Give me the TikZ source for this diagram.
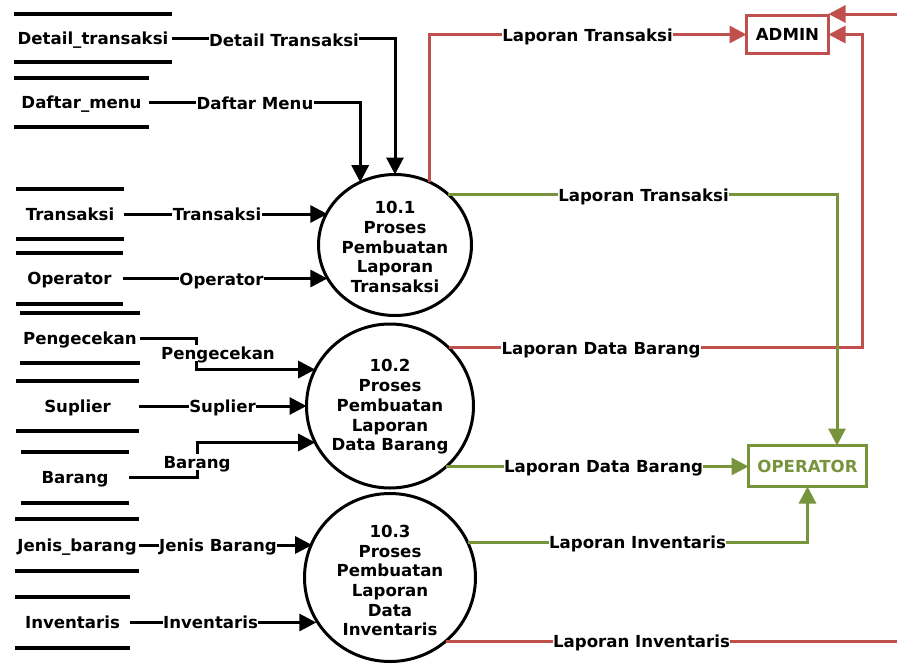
\documentclass[tikz,border=0pt]{standalone}
\usepackage{fontspec}
\setmainfont{DejaVu Sans}
\usetikzlibrary{arrows.meta,shapes.geometric}
\definecolor{flowred}{HTML}{C0504D}
\definecolor{flowgreen}{HTML}{77933C}
\begin{document}
\begin{tikzpicture}[x=1pt,y=-1pt,
  every node/.style={font=\bfseries\fontsize{16.6}{19.7}\selectfont,
    inner sep=0pt, outer sep=0pt, text height=12.1pt, text depth=0pt},
  store/.style 2 args={minimum width=#1, minimum height=#2},
  storeline/.style={line width=4pt},
  proc/.style={ellipse, draw, line width=3pt, inner sep=0pt},
  proctext/.style={align=center, text height=, text depth=},
  flow/.style={line width=3pt, -{Triangle[length=17pt,width=17pt]}},
  redflow/.style={flow, draw=flowred},
  greenflow/.style={flow, draw=flowgreen},
  lbl/.style={fill=white, inner xsep=0.5pt, inner ysep=2pt},
  entity/.style={draw, line width=3pt}
]
\useasboundingbox (0,0) rectangle (897,665);

% data stores
\node[store={158}{48}] (DT) at (93,38)    {Detail\_transaksi};
\node[store={135}{49}] (DM) at (81.5,102.5) {Daftar\_menu};
\node[store={108}{50}] (TR) at (70,214)   {Transaksi};
\node[store={107}{51}] (OS) at (69.5,278.5) {Operator};
\node[store={120}{50}] (PG) at (80,338)   {Pengecekan};
\node[store={123}{50}] (SU) at (77.5,406) {Suplier};
\node[store={108}{51}] (BA) at (75,477.5) {Barang};
\node[store={124}{52}] (JB) at (77,545)   {Jenis\_barang};
\node[store={115}{51}] (IV) at (72.5,622.5) {Inventaris};
\foreach \s in {DT,DM,TR,OS,PG,SU,BA,JB,IV}
  \draw[storeline] (\s.north west) -- (\s.north east)
                   (\s.south west) -- (\s.south east);

% processes
\node[proc, minimum width=153pt, minimum height=141pt,
  label={[proctext, yshift=-2pt]center:{10.1\\Proses\\Pembuatan\\Laporan\\Transaksi}}]
  (P1) at (395,245) {};
\node[proc, minimum width=167pt, minimum height=164pt,
  label={[proctext, yshift=-1pt]center:{10.2\\Proses\\Pembuatan\\Laporan\\Data Barang}}]
  (P2) at (390,406) {};
\node[proc, minimum width=171pt, minimum height=168pt,
  label={[proctext, yshift=-3pt]center:{10.3\\Proses\\Pembuatan\\Laporan\\Data\\Inventaris}}]
  (P3) at (390,577.5) {};

% external entities
\node[entity, draw=flowred, minimum width=82pt, minimum height=38pt] (ADMIN) at (787.5,34.5) {ADMIN};
\node[entity, draw=flowgreen, text=flowgreen, minimum width=118pt, minimum height=41pt] (OP) at (807.5,466) {OPERATOR};
\coordinate (redin) at (897,14);

% inputs
\draw[flow] (DT.east) -| (P1.north);
\draw[flow] (DM.east) -| (P1.119.2);
\draw[flow] (TR.east) -- (TR.east -| P1.154.9);
\draw[flow] (OS.east) -- (OS.east -| P1.206.9);
\draw[flow] (PG.east) -- ++(56,0) |- (P2.154);
\draw[flow] (SU.east) -- (SU.east -| P2.west);
\draw[flow] (BA.east) -- ++(68,0) |- (P2.206.8);
\draw[flow] (JB.east) -- (JB.east -| P3.156.9);
\draw[flow] (IV.east) -- (IV.east -| P3.210.8);

% reports
\draw[redflow] (P1.61.6) |- (ADMIN.west);
\draw[redflow] (P2.45) -| ([xshift=33.5pt]ADMIN.east) -- (ADMIN.east);
\draw[redflow] (redin) -- (redin -| ADMIN.north east);
\draw[line width=3pt, draw=flowred] (P3.311.4) -- (P3.311.4 -| redin);
\draw[greenflow] (P1.44) -| ([xshift=29.5pt]OP.north);
\draw[greenflow] (P2.313.5) -- (P2.313.5 -| OP.west);
\draw[greenflow] (P3.24.6) -| (OP.south);

% flow labels
\node[lbl] (lDT) at (284,40)    {Detail Transaksi};
\node[lbl] (lDM) at (255,103)   {Daftar Menu};
\node[lbl] (lTR) at (217,214)   {Transaksi};
\node[lbl] (lOS) at (221.5,279) {Operator};
\node[lbl] (lPG) at (218,353)   {Pengecekan};
\node[lbl] (lSU) at (222.5,406) {Suplier};
\node[lbl] (lBA) at (197,462)   {Barang};
\node[lbl] (lJB) at (218,545)   {Jenis Barang};
\node[lbl] (lIV) at (210.5,622) {Inventaris};
\node[lbl] (lR1) at (587.5,35)  {Laporan Transaksi};
\node[lbl] (lG1) at (643.5,195) {Laporan Transaksi};
\node[lbl] (lR2) at (601,348)   {Laporan Data Barang};
\node[lbl] (lG2) at (603.5,466) {Laporan Data Barang};
\node[lbl] (lG3) at (637.5,542) {Laporan Inventaris};
\node[lbl] (lR3) at (641.5,641) {Laporan Inventaris};
\end{tikzpicture}
\end{document}
